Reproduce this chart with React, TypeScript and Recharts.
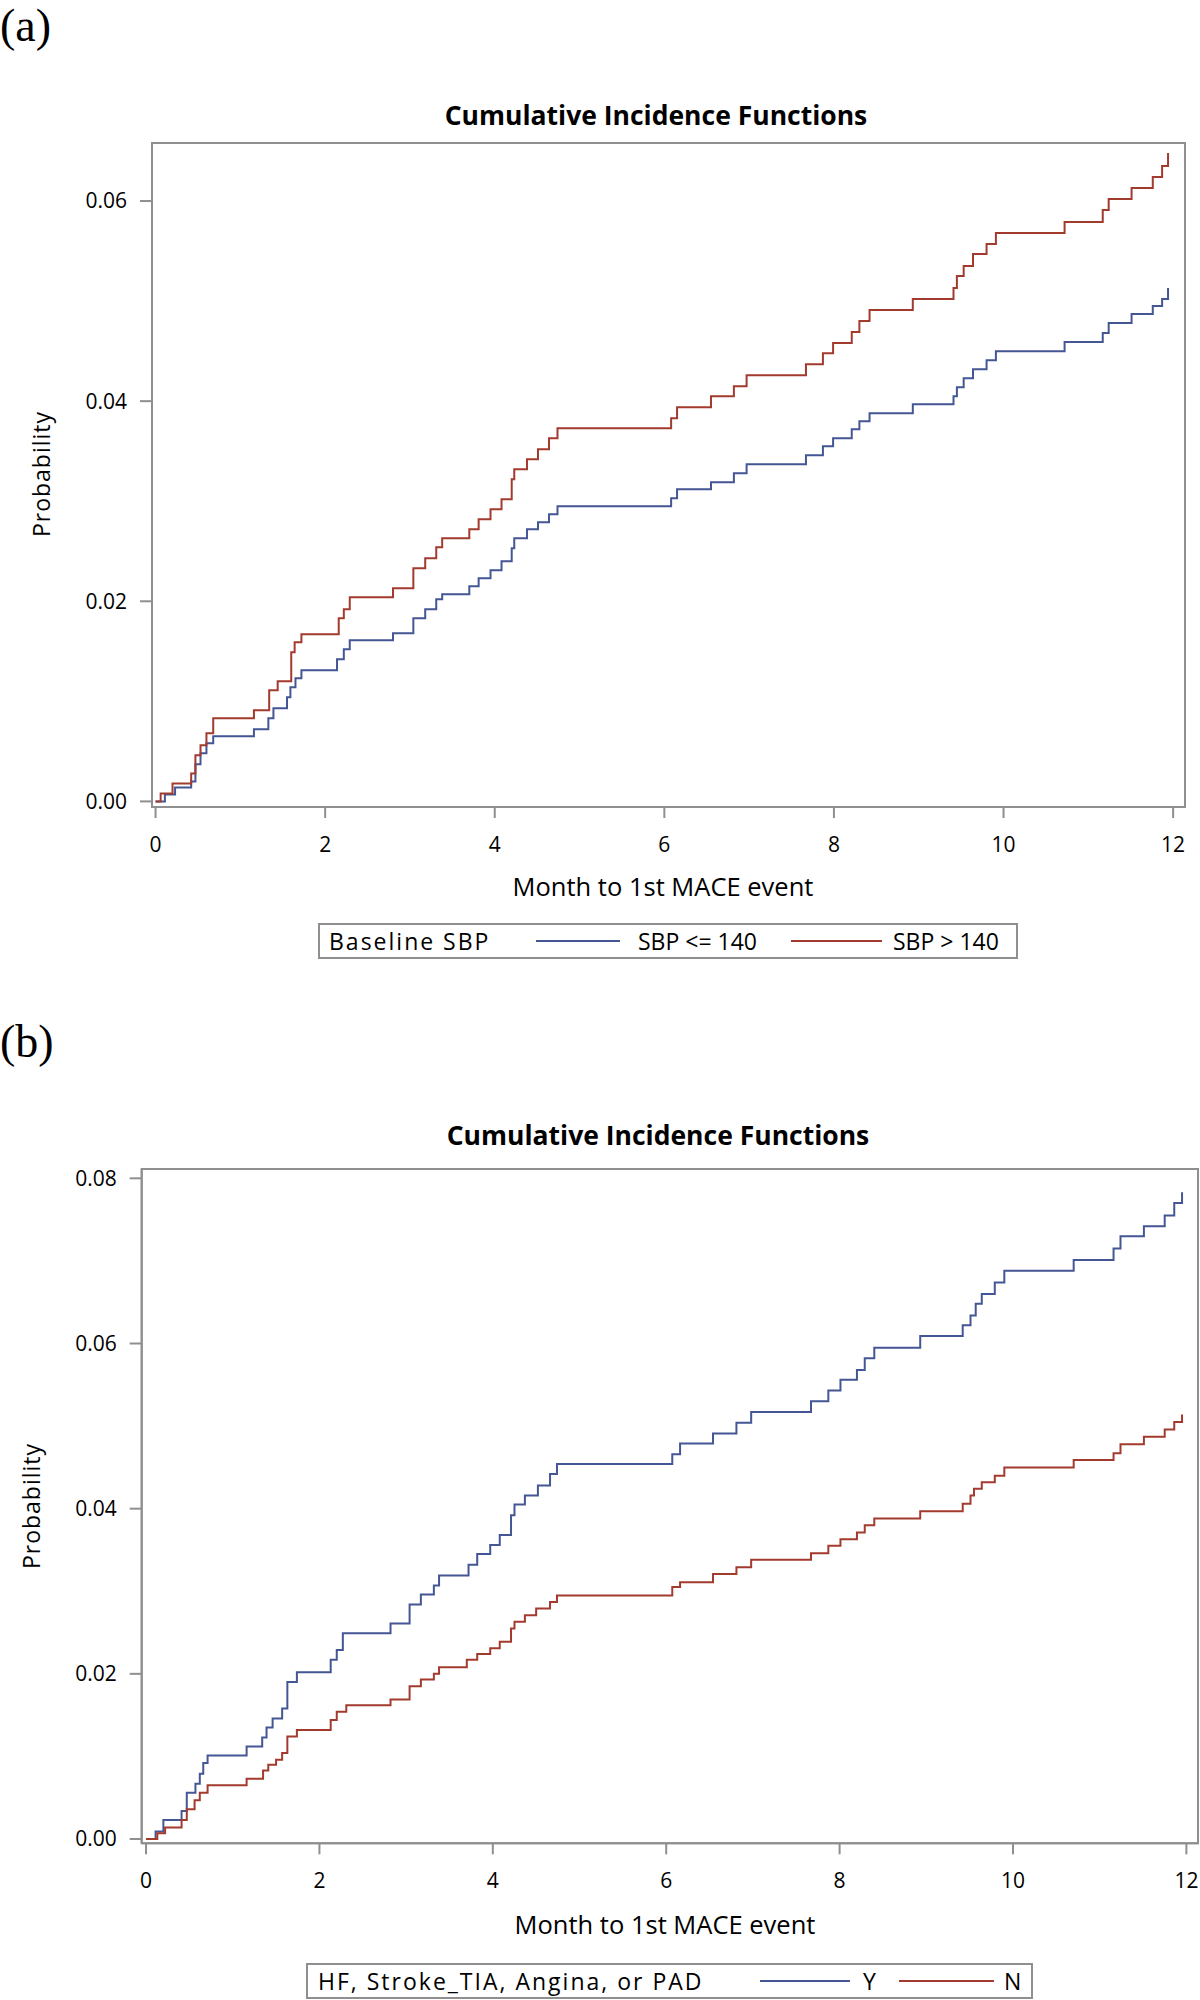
import { LineChart, Line, XAxis, YAxis, Legend, ReferenceArea } from "recharts";

const FONT = '"Open Sans", "Noto Sans", sans-serif';
const BLUE = "#445694";
const RED = "#a23a2e";
const FRAME = "#8f8f8f";

const MONTH_TICKS = [0, 2, 4, 6, 8, 10, 12];
const PROB_TICKS_A = [0, 0.02, 0.04, 0.06];
const PROB_TICKS_B = [0, 0.02, 0.04, 0.06, 0.08];

// (a) cumulative incidence by baseline SBP: [month, probability]
const SBP_LE_140: [number, number][] = [
  [0, 0], [0.11, 0.0007], [0.23, 0.0014], [0.42, 0.002], [0.47, 0.0037], [0.53, 0.0048],
  [0.6, 0.0058], [0.68, 0.0065], [1.16, 0.0072], [1.33, 0.0083], [1.39, 0.0093], [1.55, 0.0104],
  [1.59, 0.0114], [1.65, 0.0123], [1.72, 0.0131], [2.14, 0.0142], [2.22, 0.0152], [2.29, 0.0161],
  [2.8, 0.0168], [3.04, 0.0183], [3.18, 0.0192], [3.31, 0.0202], [3.38, 0.0207], [3.7, 0.0215],
  [3.81, 0.0223], [3.95, 0.0231], [4.08, 0.024], [4.2, 0.0253], [4.23, 0.0263], [4.38, 0.0272],
  [4.51, 0.0279], [4.64, 0.0287], [4.74, 0.0295], [6.08, 0.0303], [6.15, 0.0312], [6.55, 0.0319],
  [6.82, 0.0328], [6.97, 0.0337], [7.67, 0.0346], [7.87, 0.0355], [7.99, 0.0363], [8.21, 0.0372],
  [8.3, 0.038], [8.42, 0.0388], [8.93, 0.0397], [9.41, 0.0405], [9.45, 0.0414], [9.53, 0.0423],
  [9.64, 0.0432], [9.8, 0.0441], [9.91, 0.045], [10.72, 0.0459], [11.17, 0.0468], [11.24, 0.0478],
  [11.51, 0.0487], [11.76, 0.0495], [11.87, 0.0502], [11.94, 0.0513],
];

const SBP_GT_140: [number, number][] = [
  [0, 0], [0.06, 0.0008], [0.2, 0.0018], [0.42, 0.0028], [0.47, 0.0046], [0.53, 0.0056],
  [0.6, 0.0068], [0.68, 0.0083], [1.16, 0.0091], [1.34, 0.0111], [1.44, 0.012], [1.6, 0.0149],
  [1.64, 0.0159], [1.72, 0.0167], [2.16, 0.0183], [2.22, 0.0192], [2.29, 0.0204], [2.8, 0.0213],
  [3.04, 0.0233], [3.18, 0.0243], [3.31, 0.0254], [3.38, 0.0263], [3.7, 0.0272], [3.81, 0.0282],
  [3.95, 0.0292], [4.08, 0.0302], [4.2, 0.0322], [4.23, 0.0332], [4.38, 0.0342], [4.51, 0.0352],
  [4.64, 0.0363], [4.74, 0.0373], [6.08, 0.0383], [6.15, 0.0394], [6.55, 0.0405], [6.82, 0.0415],
  [6.97, 0.0426], [7.67, 0.0437], [7.87, 0.0448], [7.99, 0.0458], [8.21, 0.0469], [8.3, 0.048],
  [8.42, 0.0491], [8.93, 0.0502], [9.41, 0.0513], [9.45, 0.0525], [9.53, 0.0535], [9.64, 0.0547],
  [9.8, 0.0557], [9.91, 0.0568], [10.72, 0.0579], [11.17, 0.0591], [11.24, 0.0602], [11.51, 0.0613],
  [11.76, 0.0624], [11.87, 0.0635], [11.94, 0.0648],
];

// (b) cumulative incidence by HF / Stroke_TIA / Angina / PAD history
const HX_YES: [number, number][] = [
  [0, 0], [0.11, 0.0009], [0.2, 0.0023], [0.41, 0.0034], [0.47, 0.0056], [0.57, 0.0067],
  [0.62, 0.0079], [0.66, 0.0092], [0.71, 0.0101], [1.16, 0.0112], [1.34, 0.0123], [1.39, 0.0135],
  [1.46, 0.0146], [1.57, 0.0158], [1.63, 0.019], [1.74, 0.0202], [2.13, 0.0217], [2.2, 0.0229],
  [2.27, 0.0249], [2.82, 0.0261], [3.04, 0.0284], [3.17, 0.0296], [3.32, 0.0307], [3.38, 0.0319],
  [3.72, 0.0332], [3.82, 0.0345], [3.97, 0.0356], [4.08, 0.0368], [4.21, 0.0392], [4.25, 0.0405],
  [4.37, 0.0416], [4.52, 0.0428], [4.66, 0.0442], [4.74, 0.0454], [6.07, 0.0466], [6.16, 0.0479],
  [6.54, 0.0491], [6.81, 0.0504], [6.98, 0.0517], [7.67, 0.053], [7.87, 0.0543], [8.01, 0.0556],
  [8.2, 0.0568], [8.29, 0.0582], [8.4, 0.0595], [8.93, 0.0609], [9.42, 0.0622], [9.51, 0.0634],
  [9.57, 0.0648], [9.64, 0.066], [9.79, 0.0674], [9.9, 0.0688], [10.7, 0.0701], [11.16, 0.0715],
  [11.24, 0.073], [11.51, 0.0742], [11.75, 0.0755], [11.86, 0.077], [11.95, 0.0783],
];

const HX_NO: [number, number][] = [
  [0, 0], [0.13, 0.0007], [0.22, 0.0014], [0.41, 0.0023], [0.47, 0.0036], [0.56, 0.0047],
  [0.62, 0.0056], [0.71, 0.0065], [1.16, 0.0073], [1.35, 0.0083], [1.41, 0.009], [1.5, 0.0096],
  [1.57, 0.0104], [1.63, 0.0124], [1.74, 0.0132], [2.13, 0.0144], [2.2, 0.0154], [2.31, 0.0162],
  [2.82, 0.0169], [3.04, 0.0185], [3.17, 0.0193], [3.32, 0.02], [3.38, 0.0208], [3.7, 0.0217],
  [3.82, 0.0224], [3.97, 0.0231], [4.08, 0.0239], [4.21, 0.0255], [4.25, 0.0263], [4.37, 0.0271],
  [4.5, 0.0279], [4.66, 0.0287], [4.74, 0.0295], [6.07, 0.0305], [6.16, 0.0311], [6.54, 0.0321],
  [6.81, 0.0329], [6.98, 0.0338], [7.67, 0.0346], [7.87, 0.0355], [8.01, 0.0363], [8.2, 0.0371],
  [8.29, 0.038], [8.4, 0.0388], [8.93, 0.0397], [9.42, 0.0406], [9.51, 0.0416], [9.55, 0.0424],
  [9.64, 0.0432], [9.79, 0.044], [9.9, 0.045], [10.7, 0.0459], [11.16, 0.0467], [11.24, 0.0478],
  [11.51, 0.0487], [11.75, 0.0496], [11.86, 0.0505], [11.95, 0.0514],
];

const toRows = (pts: [number, number][]) => pts.map(([t, p]) => ({ t, p }));

function AxisTitle({ tx, ty, text, vertical }: any) {
  return (
    <text
      x={tx}
      y={ty}
      textAnchor="middle"
      transform={vertical ? `rotate(-90 ${tx} ${ty})` : undefined}
      fill="#000"
      style={{ fontFamily: FONT, fontSize: vertical ? 23 : 25.5, letterSpacing: vertical ? 1 : 0 }}
    >
      {text}
    </text>
  );
}

function BoxLegend({ payload, cfg, order }: any) {
  // keep series order (recharts sorts legend entries by name)
  const items = order
    .map((name: string) => (payload || []).find((e: any) => e.value === name))
    .filter(Boolean);
  return (
    <div
      style={{
        position: "relative",
        width: cfg.width,
        height: 36,
        boxSizing: "border-box",
        border: `2px solid ${FRAME}`,
        background: "#fff",
        fontFamily: FONT,
        fontSize: 23,
        color: "#000",
        whiteSpace: "nowrap",
      }}
    >
      <span style={{ position: "absolute", left: cfg.titleX, top: 0, lineHeight: "32px", letterSpacing: 2 }}>
        {cfg.title}
      </span>
      {items.map((p: any, i: number) => (
        <div key={p.value}>
          <span
            style={{
              position: "absolute",
              left: cfg.lineX[i],
              top: 15,
              width: cfg.lineW[i],
              height: 2,
              background: p.color,
            }}
          />
          <span style={{ position: "absolute", left: cfg.textX[i], top: 0, lineHeight: "32px" }}>{p.value}</span>
        </div>
      ))}
    </div>
  );
}

function CifPanel({ top, p }: any) {
  const axisLine = { stroke: FRAME, strokeWidth: 2 };
  const order = p.series.map((s: any) => s.name);
  return (
    <div style={{ position: "absolute", left: 0, top, width: 1200, height: 1000 }}>
      <svg width={1200} height={1000} style={{ position: "absolute", left: 0, top: 0 }}>
        <text x={0} y={p.tagY} style={{ fontFamily: '"Liberation Serif", serif', fontSize: 46 }} fill="#000">
          {p.tag}
        </text>
        <text
          x={p.titleX}
          y={p.titleY}
          textAnchor="middle"
          style={{ fontFamily: FONT, fontSize: 26.5, fontWeight: 700 }}
          fill="#000"
        >
          Cumulative Incidence Functions
        </text>
      </svg>
      <div style={{ position: "absolute", left: 0, top: 0 }}>
        <LineChart width={1200} height={1000} margin={p.margin}>
          <XAxis
            dataKey="t"
            type="number"
            domain={p.xDomain}
            allowDataOverflow
            ticks={MONTH_TICKS}
            height={40}
            axisLine={axisLine}
            tickLine={axisLine}
            tickSize={11}
            tickMargin={19}
            tick={{ fill: "#000", fontFamily: FONT, fontSize: 21 }}
            label={<AxisTitle tx={p.xTitle[0]} ty={p.xTitle[1]} text="Month to 1st MACE event" />}
          />
          <YAxis
            type="number"
            domain={p.yDomain}
            allowDataOverflow
            ticks={p.yTicks}
            width={p.yWidth}
            axisLine={axisLine}
            tickLine={axisLine}
            tickSize={12}
            tickMargin={13}
            tickFormatter={(v: number) => v.toFixed(2)}
            tick={{ fill: "#000", fontFamily: FONT, fontSize: 21 }}
            label={<AxisTitle tx={p.yTitle[0]} ty={p.yTitle[1]} text="Probability" vertical />}
          />
          <ReferenceArea
            x1={p.xDomain[0]}
            x2={p.xDomain[1]}
            y1={p.yDomain[0]}
            y2={p.yDomain[1]}
            fill="none"
            fillOpacity={0}
            stroke={FRAME}
            strokeWidth={2}
          />
          {p.series.map((s: any) => (
            <Line
              key={s.name}
              data={toRows(s.data)}
              dataKey="p"
              name={s.name}
              type="stepAfter"
              stroke={s.color}
              strokeWidth={2}
              dot={false}
              activeDot={false}
              isAnimationActive={false}
            />
          ))}
          <Legend
            layout="horizontal"
            verticalAlign="middle"
            align="center"
            wrapperStyle={{ left: p.legend.left, top: p.legend.top, width: p.legend.width, height: 36 }}
            content={(props: any) => <BoxLegend {...props} cfg={p.legend} order={order} />}
          />
        </LineChart>
      </div>
    </div>
  );
}

const PANEL_A = {
  tag: "(a)",
  tagY: 41,
  titleX: 656,
  titleY: 125,
  margin: { top: 143, right: 15, bottom: 153, left: 0 },
  yWidth: 152,
  xDomain: [-0.042, 12.14],
  yDomain: [-0.00056, 0.0658],
  yTicks: PROB_TICKS_A,
  xTitle: [663, 896],
  yTitle: [50, 474],
  legend: {
    left: 318, top: 923, width: 700, title: "Baseline SBP", titleX: 9,
    lineX: [216, 471], lineW: [84, 91], textX: [318, 573],
  },
  series: [
    { name: "SBP <= 140", color: BLUE, data: SBP_LE_140 },
    { name: "SBP > 140", color: RED, data: SBP_GT_140 },
  ],
};

const PANEL_B = {
  tag: "(b)",
  tagY: 57,
  titleX: 658,
  titleY: 145,
  margin: { top: 169, right: 2, bottom: 116.7, left: 0 },
  yWidth: 141.7,
  xDomain: [-0.05, 12.134],
  yDomain: [-0.00052, 0.08113],
  yTicks: PROB_TICKS_B,
  xTitle: [665, 934],
  yTitle: [40, 506],
  legend: {
    left: 306, top: 963, width: 727, title: "HF, Stroke_TIA, Angina, or PAD", titleX: 10,
    lineX: [452, 591], lineW: [90, 95], textX: [555, 696],
  },
  series: [
    { name: "Y", color: BLUE, data: HX_YES },
    { name: "N", color: RED, data: HX_NO },
  ],
};

export default function App() {
  return (
    <div style={{ position: "absolute", left: 0, top: 0, width: 1200, height: 2000, background: "#fff", overflow: "hidden" }}>
      <CifPanel top={0} p={PANEL_A} />
      <CifPanel top={1000} p={PANEL_B} />
    </div>
  );
}
